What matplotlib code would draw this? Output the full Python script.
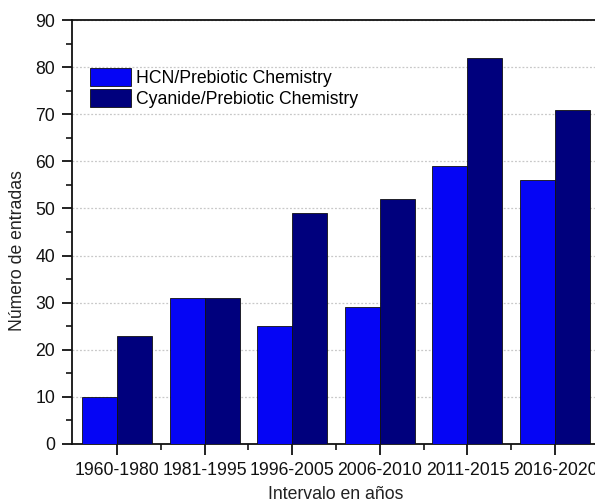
import matplotlib
matplotlib.use("Agg")
import matplotlib.pyplot as plt
import numpy as np
from matplotlib.ticker import MultipleLocator, FixedLocator

plt.rcParams['font.family'] = ['Liberation Sans', 'DejaVu Sans']

periods = ["1960-1980", "1981-1995", "1996-2005", "2006-2010", "2011-2015", "2016-2020"]
hcn = [10, 31, 25, 29, 59, 56]
cyanide = [23, 31, 49, 52, 82, 71]
labels = ["HCN/Prebiotic Chemistry", "Cyanide/Prebiotic Chemistry"]

W, H = 595, 503
fs = 12.7
fig = plt.figure(figsize=(W / 100, H / 100), dpi=100)
# axes runs a little past the right edge, as in the cropped original
ax = fig.add_axes([72 / W, (H - 444) / H, 528 / W, 424 / H])

x = np.arange(len(periods))
w = 0.4
ax.bar(x - w / 2, hcn, w, color="#0505F5", edgecolor="#111111", linewidth=0.6,
       label=labels[0], zorder=3)
ax.bar(x + w / 2, cyanide, w, color="#00007D", edgecolor="#111111", linewidth=0.6,
       label=labels[1], zorder=3)

ax.set_xlim(-0.514, 5.513)
ax.set_ylim(0, 90)
ax.set_xticks(x)
ax.set_xticklabels(periods)
ax.xaxis.set_minor_locator(FixedLocator(x[:-1] + 0.5))
ax.yaxis.set_major_locator(MultipleLocator(10))
ax.yaxis.set_minor_locator(MultipleLocator(5))

ax.tick_params(which="major", direction="out", length=7, width=1.3,
               labelsize=fs, colors="#111111", pad=5)
ax.tick_params(which="minor", direction="out", length=4, width=1.1)
ax.tick_params(axis="x", which="major", length=8, pad=5)
ax.tick_params(top=False, right=False)

for s in ax.spines.values():
    s.set_linewidth(1.3)
    s.set_color("#111111")

ax.grid(axis="y", which="major", linestyle=(0, (1.5, 1.5)), color="#c8c8c8",
        linewidth=0.9, zorder=0)

ax.set_xlabel("Intervalo en años", fontsize=fs, color="#222222")
ax.set_ylabel("Número de entradas", fontsize=fs, color="#222222")
ax.xaxis.set_label_coords(0.5, -0.1)
ax.yaxis.set_label_coords(-0.087, 0.457)

ax.legend(loc="upper left", bbox_to_anchor=(0.034, 0.887), frameon=False,
          fontsize=fs, borderpad=0, borderaxespad=0, handlelength=2.3,
          handleheight=1.2, labelspacing=0.12, handletextpad=0.3)

fig.savefig("out.png", dpi=100)
